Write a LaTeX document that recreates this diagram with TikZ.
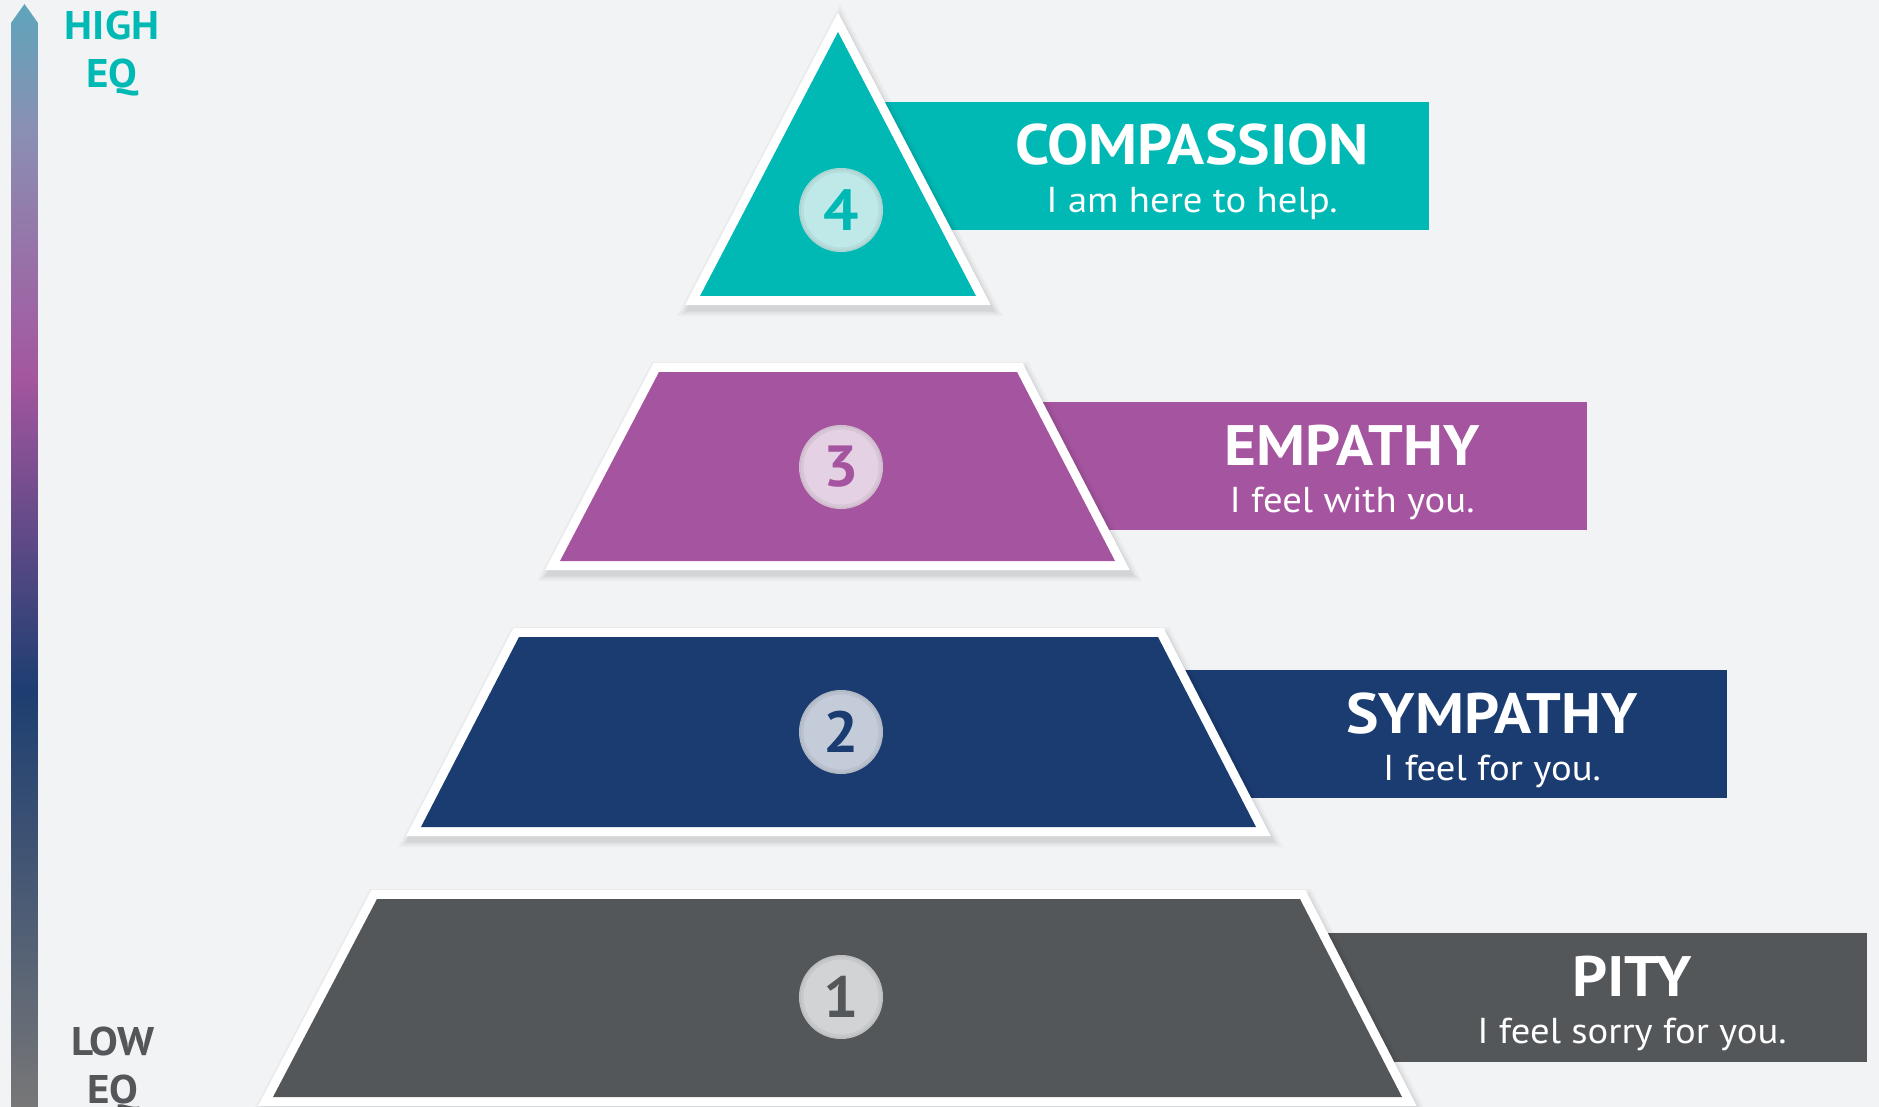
\documentclass[tikz,border=0pt]{standalone}
\usepackage{fontspec}
\setmainfont{PT Sans}[FakeStretch=1.075]
\definecolor{bg}{HTML}{F2F3F5}
\definecolor{cteal}{HTML}{00B9B4}
\definecolor{cpurple}{HTML}{A5559F}
\definecolor{cnavy}{HTML}{1B3C71}
\definecolor{cgrey}{HTML}{53575A}
\definecolor{lteal}{HTML}{BFE9E8}
\definecolor{lpurple}{HTML}{E4D1E3}
\definecolor{lnavy}{HTML}{C4CCDA}
\definecolor{lgrey}{HTML}{D2D3D4}
\definecolor{bartop}{HTML}{5EA5BA}
\definecolor{barmid}{HTML}{8A8FB4}
\definecolor{barpurple}{HTML}{A4569E}
\definecolor{barnavy}{HTML}{1D3E71}
\definecolor{barbot}{HTML}{777777}
\tikzset{
  whiteedge/.style={draw=white, fill=white, line width=18pt, line join=miter, miter limit=10},
  shadowedge/.style={draw=black, line join=miter, miter limit=10},
  numdisc/.style={circle, minimum size=84pt, inner sep=0pt, font=\fontsize{58}{58}\bfseries\selectfont},
  titletext/.style={anchor=base, text=white, inner sep=0pt, font=\fontsize{57}{57}\bfseries\selectfont},
  subtext/.style={anchor=base, text=white, inner sep=0pt, font=\fontsize{36}{36}\selectfont},
  eqtext/.style={anchor=base, inner sep=0pt, font=\fontsize{40}{40}\bfseries\selectfont},
}
\newcommand{\tiershape}[2]{%
  \begin{scope}[shift={(2,5)}]
    \draw[shadowedge, line width=30pt, opacity=0.03] #1 -- cycle;
    \draw[shadowedge, line width=25pt, opacity=0.04] #1 -- cycle;
    \draw[shadowedge, line width=21pt, opacity=0.05] #1 -- cycle;
  \end{scope}
  \filldraw[whiteedge] #1 -- cycle;
  \fill[#2] #1 -- cycle;
}
\begin{document}
\begin{tikzpicture}[x=1pt,y=-1pt]
\useasboundingbox[fill=bg] (0,0) rectangle (1879,1107);

% EQ bar (own scope with upward y so the shadings run the right way)
\begin{scope}[y=1pt]
  \begin{scope}
    \clip (11,-1107) -- (11,-23) -- (24.5,-4) -- (38,-23) -- (38,-1107) -- cycle;
    \shade[top color=bartop, bottom color=barmid] (11,-4) rectangle (38,-130);
    \shade[top color=barmid, bottom color=barpurple] (11,-130) rectangle (38,-377);
    \shade[top color=barpurple, bottom color=barnavy] (11,-377) rectangle (38,-690);
    \shade[top color=barnavy, bottom color=barbot] (11,-690) rectangle (38,-1107);
  \end{scope}
\end{scope}
\node[eqtext, text=cteal] (high) at (112,40) {HIGH};
\node[eqtext, text=cteal] (higheq) at (112,88) {EQ};
\node[eqtext, text=cgrey] (low) at (113,1055) {LOW};
\node[eqtext, text=cgrey] (loweq) at (113,1103) {EQ};

% label boxes
\fill[cteal] (840,102) rectangle (1429,230);
\fill[cpurple] (840,402) rectangle (1587,530);
\fill[cnavy] (840,670) rectangle (1727,798);
\fill[cgrey] (840,933) rectangle (1867,1062);

% tiers
\tiershape{(838,32) -- (976,296) -- (700,296)}{cteal}
\tiershape{(659,372) -- (1017,372) -- (1115,561) -- (560,561)}{cpurple}
\tiershape{(519,637) -- (1158,637) -- (1256,827) -- (421,827)}{cnavy}
\tiershape{(377,899) -- (1300,899) -- (1402,1097) -- (273,1097)}{cgrey}

% number discs
\node[numdisc, fill=lteal, text=cteal] (n4) at (841,210) {4};
\node[numdisc, fill=lpurple, text=cpurple] (n3) at (841,467) {3};
\node[numdisc, fill=lnavy, text=cnavy] (n2) at (841,732) {2};
\node[numdisc, fill=lgrey, text=cgrey] (n1) at (841,997) {1};
\foreach \n in {n4,n3,n2,n1}{
  \draw[black, opacity=0.05, line width=4pt] (\n.center) circle (39.5);
  \draw[black, opacity=0.06, line width=1.5pt] (\n.center) circle (41.2);
}

% labels
\node[titletext] (t4) at (1192,165) {COMPASSION};
\node[subtext] (s4) at (1192,213) {I am here to help.};
\node[titletext] (t3) at (1352,465) {EMPATHY};
\node[subtext] (s3) at (1352,512) {I feel with you.};
\node[titletext] (t2) at (1492,733) {SYMPATHY};
\node[subtext] (s2) at (1492,780) {I feel for you.};
\node[titletext] (t1) at (1632,996) {PITY};
\node[subtext] (s1) at (1632,1043) {I feel sorry for you.};
\end{tikzpicture}
\end{document}
